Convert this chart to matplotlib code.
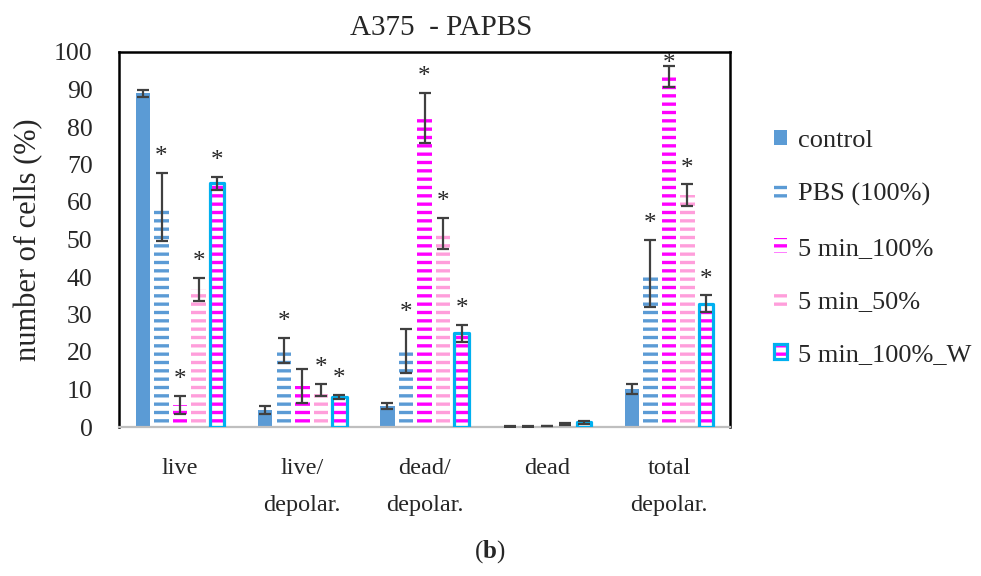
import numpy as np
import matplotlib
matplotlib.use('Agg')
import matplotlib.pyplot as plt
from matplotlib.patches import Patch

# Cell populations (%) for each treatment, A375 cells treated with PAPBS
categories = ['live', 'live/\ndepolar.', 'dead/\ndepolar.', 'dead', 'total\ndepolar.']
series = ['control', 'PBS (100%)', '5 min_100%', '5 min_50%', '5 min_100%_W']

means = {
    'control':      [89.0, 4.6, 5.6, 0.2, 10.1],
    'PBS (100%)':   [58.7, 20.4, 20.3, 0.1, 40.9],
    '5 min_100%':   [5.8, 11.0, 82.4, 0.3, 93.5],
    '5 min_50%':    [36.7, 10.0, 51.7, 0.8, 61.8],
    '5 min_100%_W': [65.0, 8.0, 25.0, 1.3, 32.9],
}
errors = {
    'control':      [0.9, 1.0, 0.9, 0.1, 1.3],
    'PBS (100%)':   [9.0, 3.3, 5.9, 0.05, 8.9],
    '5 min_100%':   [2.4, 4.6, 6.8, 0.1, 2.8],
    '5 min_50%':    [3.0, 1.6, 4.1, 0.3, 2.9],
    '5 min_100%_W': [1.8, 0.5, 2.3, 0.4, 2.2],
}
# significance marks (*) per bar
signif = {
    'control':      [0, 0, 0, 0, 0],
    'PBS (100%)':   [1, 1, 1, 0, 1],
    '5 min_100%':   [1, 0, 1, 0, 1],
    '5 min_50%':    [1, 1, 1, 0, 1],
    '5 min_100%_W': [1, 1, 1, 0, 1],
}

BLUE = '#5B9BD5'
MAGENTA = '#FF00FF'
PINK = '#FF9EDB'
CYAN = '#00B0F0'
ERR = '#404040'
TXT = '#262626'

plt.rcParams['font.family'] = ['Liberation Serif', 'DejaVu Serif']
plt.rcParams['mathtext.fontset'] = 'custom'
plt.rcParams['mathtext.rm'] = 'Liberation Serif'
plt.rcParams['mathtext.bf'] = 'Liberation Serif:bold'
plt.rcParams['hatch.linewidth'] = 2.4

fig = plt.figure(figsize=(9.81, 5.76), dpi=100)
ax = fig.add_axes([119 / 981, 1 - 427 / 576, (730 - 119) / 981, (427 - 52) / 576])

x = np.arange(len(categories))
slot = 0.152
width = 0.118

styles = {
    'control':      dict(facecolor=BLUE, edgecolor=BLUE, linewidth=0),
    'PBS (100%)':   dict(facecolor='white', edgecolor=BLUE, hatch='--', linewidth=0),
    '5 min_100%':   dict(facecolor='white', edgecolor=MAGENTA, hatch='--', linewidth=0),
    '5 min_50%':    dict(facecolor='white', edgecolor=PINK, hatch='--', linewidth=0),
    '5 min_100%_W': dict(facecolor='white', edgecolor=MAGENTA, hatch='--', linewidth=0),
}

for j, name in enumerate(series):
    pos = x + (j - 2) * slot
    vals = np.array(means[name])
    errs = np.array(errors[name])
    ax.bar(pos, vals, width, zorder=2, **styles[name])
    if name == '5 min_100%_W':
        ax.bar(pos, vals, width, facecolor='none', edgecolor=CYAN,
               linewidth=2.3, joinstyle='round', zorder=3)
    ax.errorbar(pos, vals, yerr=errs, fmt='none', ecolor=ERR, elinewidth=1.6,
                capsize=4.6, capthick=1.6, zorder=4)
    for p, v, e, s in zip(pos, vals, errs, signif[name]):
        if s:
            ax.text(p, min(v + e + 2.6, 95.2), '*', ha='center', va='baseline',
                    fontsize=18, color=TXT, zorder=5)

ax.set_xlim(-0.5, len(categories) - 0.5)
ax.set_ylim(0, 100)
ax.set_yticks(np.arange(0, 101, 10))
ax.set_xticks(x)
ax.set_xticklabels(categories, fontsize=17.5, color=TXT)
for lab in ax.get_xticklabels():
    lab.set_linespacing(2.05)
ax.tick_params(axis='y', length=0, pad=19, labelsize=18.5, labelcolor=TXT)
ax.tick_params(axis='x', length=0, pad=22)

for side in ['left', 'top', 'right']:
    ax.spines[side].set_color('black')
    ax.spines[side].set_linewidth(1.8)
ax.spines['bottom'].set_color('#BFBFBF')
ax.spines['bottom'].set_linewidth(1.6)

ax.set_ylabel('number of cells (%)', fontsize=22, color=TXT, labelpad=8)
fig.text(441 / 981, 1 - 28 / 576, 'A375  - PAPBS', ha='center', va='center',
         fontsize=21, color=TXT)
fig.text(490 / 981, 1 - 552 / 576, r'($\mathbf{b}$)', ha='center', va='center',
         fontsize=18, color=TXT)

# legend handles
handles = [
    Patch(**styles['control']),
    Patch(**styles['PBS (100%)']),
    Patch(**styles['5 min_100%']),
    Patch(**styles['5 min_50%']),
    (Patch(**styles['5 min_100%_W']),
     Patch(facecolor='none', edgecolor=CYAN, linewidth=2.3)),
]
leg = fig.legend(handles, series, loc='center left',
                 bbox_to_anchor=(774 / 981, 1 - 248 / 576), frameon=False,
                 fontsize=19, handlelength=0.5, handleheight=0.5,
                 handletextpad=0.4, labelspacing=1.18, borderpad=0,
                 borderaxespad=0)
for t in leg.get_texts():
    t.set_color(TXT)

fig.savefig('out.png', dpi=100)
